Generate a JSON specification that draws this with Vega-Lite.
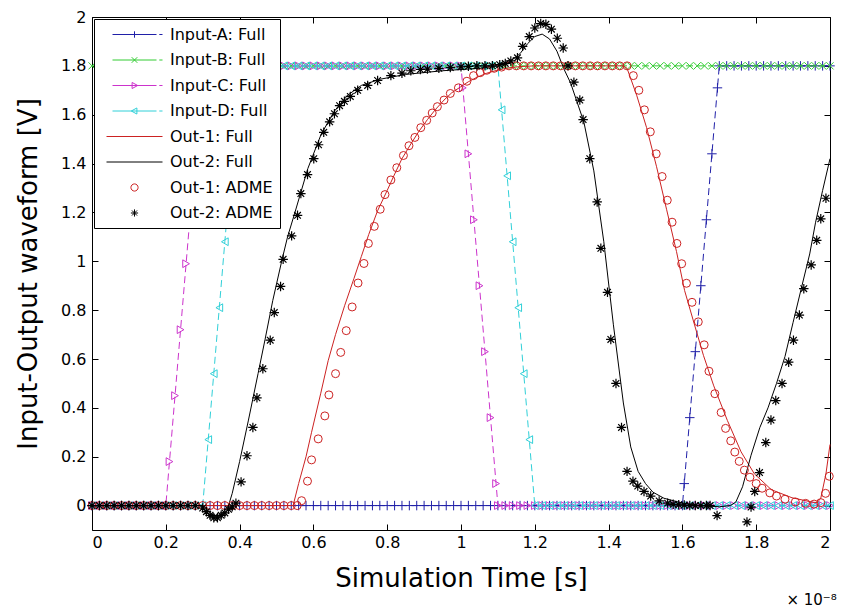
{
"$schema": "https://vega.github.io/schema/vega-lite/v6.json",
"width": 738, "height": 513,
"autosize": {"type": "none"},
"padding": {"left": 92, "top": 17, "right": 16, "bottom": 84},
"background": "white",
"title": {"text": "× 10⁻⁸", "orient": "bottom", "anchor": "end", "fontSize": 15, "fontWeight": "normal", "font": "DejaVu Sans", "color": "#000", "offset": 2},
"config": {
  "view": {"stroke": "#000", "strokeWidth": 1},
  "font": "DejaVu Sans",
  "axis": {"grid": false, "domain": false, "tickColor": "#000", "tickSize": 6, "offset": -6, "labelColor": "#000", "labelFontSize": 16, "titleFontSize": 26, "titleFontWeight": "normal", "titleColor": "#000", "labelFont": "DejaVu Sans", "titleFont": "DejaVu Sans"}
},
"datasets": {
"legend": [{"s":"Input-A: Full"},{"s":"Input-B: Full"},{"s":"Input-C: Full"},{"s":"Input-D: Full"},{"s":"Out-1: Full"},{"s":"Out-2: Full"},{"s":"Out-1: ADME"},{"s":"Out-2: ADME"}],
"A": [{"x":0,"y":0},{"x":0.02,"y":0},{"x":0.04,"y":0},{"x":0.06,"y":0},{"x":0.08,"y":0},{"x":0.1,"y":0},{"x":0.12,"y":0},{"x":0.14,"y":0},{"x":0.16,"y":0},{"x":0.18,"y":0},{"x":0.2,"y":0},{"x":0.22,"y":0},{"x":0.24,"y":0},{"x":0.26,"y":0},{"x":0.28,"y":0},{"x":0.3,"y":0},{"x":0.32,"y":0},{"x":0.34,"y":0},{"x":0.36,"y":0},{"x":0.38,"y":0},{"x":0.4,"y":0},{"x":0.42,"y":0},{"x":0.44,"y":0},{"x":0.46,"y":0},{"x":0.48,"y":0},{"x":0.5,"y":0},{"x":0.52,"y":0},{"x":0.54,"y":0},{"x":0.56,"y":0},{"x":0.58,"y":0},{"x":0.6,"y":0},{"x":0.62,"y":0},{"x":0.64,"y":0},{"x":0.66,"y":0},{"x":0.68,"y":0},{"x":0.7,"y":0},{"x":0.72,"y":0},{"x":0.74,"y":0},{"x":0.76,"y":0},{"x":0.78,"y":0},{"x":0.8,"y":0},{"x":0.82,"y":0},{"x":0.84,"y":0},{"x":0.86,"y":0},{"x":0.88,"y":0},{"x":0.9,"y":0},{"x":0.92,"y":0},{"x":0.94,"y":0},{"x":0.96,"y":0},{"x":0.98,"y":0},{"x":1,"y":0},{"x":1.02,"y":0},{"x":1.04,"y":0},{"x":1.06,"y":0},{"x":1.08,"y":0},{"x":1.1,"y":0},{"x":1.12,"y":0},{"x":1.14,"y":0},{"x":1.16,"y":0},{"x":1.18,"y":0},{"x":1.2,"y":0},{"x":1.22,"y":0},{"x":1.24,"y":0},{"x":1.26,"y":0},{"x":1.28,"y":0},{"x":1.3,"y":0},{"x":1.32,"y":0},{"x":1.34,"y":0},{"x":1.36,"y":0},{"x":1.38,"y":0},{"x":1.4,"y":0},{"x":1.42,"y":0},{"x":1.44,"y":0},{"x":1.46,"y":0},{"x":1.48,"y":0},{"x":1.5,"y":0},{"x":1.52,"y":0},{"x":1.54,"y":0},{"x":1.56,"y":0},{"x":1.58,"y":0},{"x":1.6,"y":0},{"x":1.605,"y":0.09},{"x":1.62,"y":0.36},{"x":1.635,"y":0.63},{"x":1.65,"y":0.9},{"x":1.665,"y":1.17},{"x":1.68,"y":1.44},{"x":1.695,"y":1.71},{"x":1.7,"y":1.8},{"x":1.72,"y":1.8},{"x":1.74,"y":1.8},{"x":1.76,"y":1.8},{"x":1.78,"y":1.8},{"x":1.8,"y":1.8},{"x":1.82,"y":1.8},{"x":1.84,"y":1.8},{"x":1.86,"y":1.8},{"x":1.88,"y":1.8},{"x":1.9,"y":1.8},{"x":1.92,"y":1.8},{"x":1.94,"y":1.8},{"x":1.96,"y":1.8},{"x":1.98,"y":1.8},{"x":2,"y":1.8}],
"B": [{"x":0,"y":1.8},{"x":0.02,"y":1.8},{"x":0.04,"y":1.8},{"x":0.06,"y":1.8},{"x":0.08,"y":1.8},{"x":0.1,"y":1.8},{"x":0.12,"y":1.8},{"x":0.14,"y":1.8},{"x":0.16,"y":1.8},{"x":0.18,"y":1.8},{"x":0.2,"y":1.8},{"x":0.22,"y":1.8},{"x":0.24,"y":1.8},{"x":0.26,"y":1.8},{"x":0.28,"y":1.8},{"x":0.3,"y":1.8},{"x":0.32,"y":1.8},{"x":0.34,"y":1.8},{"x":0.36,"y":1.8},{"x":0.38,"y":1.8},{"x":0.4,"y":1.8},{"x":0.42,"y":1.8},{"x":0.44,"y":1.8},{"x":0.46,"y":1.8},{"x":0.48,"y":1.8},{"x":0.5,"y":1.8},{"x":0.52,"y":1.8},{"x":0.54,"y":1.8},{"x":0.56,"y":1.8},{"x":0.58,"y":1.8},{"x":0.6,"y":1.8},{"x":0.62,"y":1.8},{"x":0.64,"y":1.8},{"x":0.66,"y":1.8},{"x":0.68,"y":1.8},{"x":0.7,"y":1.8},{"x":0.72,"y":1.8},{"x":0.74,"y":1.8},{"x":0.76,"y":1.8},{"x":0.78,"y":1.8},{"x":0.8,"y":1.8},{"x":0.82,"y":1.8},{"x":0.84,"y":1.8},{"x":0.86,"y":1.8},{"x":0.88,"y":1.8},{"x":0.9,"y":1.8},{"x":0.92,"y":1.8},{"x":0.94,"y":1.8},{"x":0.96,"y":1.8},{"x":0.98,"y":1.8},{"x":1,"y":1.8},{"x":1.02,"y":1.8},{"x":1.04,"y":1.8},{"x":1.06,"y":1.8},{"x":1.08,"y":1.8},{"x":1.1,"y":1.8},{"x":1.12,"y":1.8},{"x":1.14,"y":1.8},{"x":1.16,"y":1.8},{"x":1.18,"y":1.8},{"x":1.2,"y":1.8},{"x":1.22,"y":1.8},{"x":1.24,"y":1.8},{"x":1.26,"y":1.8},{"x":1.28,"y":1.8},{"x":1.3,"y":1.8},{"x":1.32,"y":1.8},{"x":1.34,"y":1.8},{"x":1.36,"y":1.8},{"x":1.38,"y":1.8},{"x":1.4,"y":1.8},{"x":1.42,"y":1.8},{"x":1.44,"y":1.8},{"x":1.46,"y":1.8},{"x":1.48,"y":1.8},{"x":1.5,"y":1.8},{"x":1.52,"y":1.8},{"x":1.54,"y":1.8},{"x":1.56,"y":1.8},{"x":1.58,"y":1.8},{"x":1.6,"y":1.8},{"x":1.62,"y":1.8},{"x":1.64,"y":1.8},{"x":1.66,"y":1.8},{"x":1.68,"y":1.8},{"x":1.7,"y":1.8},{"x":1.72,"y":1.8},{"x":1.74,"y":1.8},{"x":1.76,"y":1.8},{"x":1.78,"y":1.8},{"x":1.8,"y":1.8},{"x":1.82,"y":1.8},{"x":1.84,"y":1.8},{"x":1.86,"y":1.8},{"x":1.88,"y":1.8},{"x":1.9,"y":1.8},{"x":1.92,"y":1.8},{"x":1.94,"y":1.8},{"x":1.96,"y":1.8},{"x":1.98,"y":1.8},{"x":2,"y":1.8}],
"C": [{"x":0,"y":0},{"x":0.02,"y":0},{"x":0.04,"y":0},{"x":0.06,"y":0},{"x":0.08,"y":0},{"x":0.1,"y":0},{"x":0.12,"y":0},{"x":0.14,"y":0},{"x":0.16,"y":0},{"x":0.18,"y":0},{"x":0.2,"y":0},{"x":0.21,"y":0.18},{"x":0.225,"y":0.45},{"x":0.24,"y":0.72},{"x":0.255,"y":0.99},{"x":0.27,"y":1.26},{"x":0.285,"y":1.53},{"x":0.3,"y":1.8},{"x":0.32,"y":1.8},{"x":0.34,"y":1.8},{"x":0.36,"y":1.8},{"x":0.38,"y":1.8},{"x":0.4,"y":1.8},{"x":0.42,"y":1.8},{"x":0.44,"y":1.8},{"x":0.46,"y":1.8},{"x":0.48,"y":1.8},{"x":0.5,"y":1.8},{"x":0.52,"y":1.8},{"x":0.54,"y":1.8},{"x":0.56,"y":1.8},{"x":0.58,"y":1.8},{"x":0.6,"y":1.8},{"x":0.62,"y":1.8},{"x":0.64,"y":1.8},{"x":0.66,"y":1.8},{"x":0.68,"y":1.8},{"x":0.7,"y":1.8},{"x":0.72,"y":1.8},{"x":0.74,"y":1.8},{"x":0.76,"y":1.8},{"x":0.78,"y":1.8},{"x":0.8,"y":1.8},{"x":0.82,"y":1.8},{"x":0.84,"y":1.8},{"x":0.86,"y":1.8},{"x":0.88,"y":1.8},{"x":0.9,"y":1.8},{"x":0.92,"y":1.8},{"x":0.94,"y":1.8},{"x":0.96,"y":1.8},{"x":0.98,"y":1.8},{"x":1,"y":1.8},{"x":1.005,"y":1.71},{"x":1.02,"y":1.44},{"x":1.035,"y":1.17},{"x":1.05,"y":0.9},{"x":1.065,"y":0.63},{"x":1.08,"y":0.36},{"x":1.095,"y":0.09},{"x":1.1,"y":0},{"x":1.12,"y":0},{"x":1.14,"y":0},{"x":1.16,"y":0},{"x":1.18,"y":0},{"x":1.2,"y":0},{"x":1.22,"y":0},{"x":1.24,"y":0},{"x":1.26,"y":0},{"x":1.28,"y":0},{"x":1.3,"y":0},{"x":1.32,"y":0},{"x":1.34,"y":0},{"x":1.36,"y":0},{"x":1.38,"y":0},{"x":1.4,"y":0},{"x":1.42,"y":0},{"x":1.44,"y":0},{"x":1.46,"y":0},{"x":1.48,"y":0},{"x":1.5,"y":0},{"x":1.52,"y":0},{"x":1.54,"y":0},{"x":1.56,"y":0},{"x":1.58,"y":0},{"x":1.6,"y":0},{"x":1.62,"y":0},{"x":1.64,"y":0},{"x":1.66,"y":0},{"x":1.68,"y":0},{"x":1.7,"y":0},{"x":1.72,"y":0},{"x":1.74,"y":0},{"x":1.76,"y":0},{"x":1.78,"y":0},{"x":1.8,"y":0},{"x":1.82,"y":0},{"x":1.84,"y":0},{"x":1.86,"y":0},{"x":1.88,"y":0},{"x":1.9,"y":0},{"x":1.92,"y":0},{"x":1.94,"y":0},{"x":1.96,"y":0},{"x":1.98,"y":0},{"x":2,"y":0}],
"D": [{"x":0,"y":0},{"x":0.02,"y":0},{"x":0.04,"y":0},{"x":0.06,"y":0},{"x":0.08,"y":0},{"x":0.1,"y":0},{"x":0.12,"y":0},{"x":0.14,"y":0},{"x":0.16,"y":0},{"x":0.18,"y":0},{"x":0.2,"y":0},{"x":0.22,"y":0},{"x":0.24,"y":0},{"x":0.26,"y":0},{"x":0.28,"y":0},{"x":0.3,"y":0},{"x":0.315,"y":0.27},{"x":0.33,"y":0.54},{"x":0.345,"y":0.81},{"x":0.36,"y":1.08},{"x":0.375,"y":1.35},{"x":0.39,"y":1.62},{"x":0.4,"y":1.8},{"x":0.42,"y":1.8},{"x":0.44,"y":1.8},{"x":0.46,"y":1.8},{"x":0.48,"y":1.8},{"x":0.5,"y":1.8},{"x":0.52,"y":1.8},{"x":0.54,"y":1.8},{"x":0.56,"y":1.8},{"x":0.58,"y":1.8},{"x":0.6,"y":1.8},{"x":0.62,"y":1.8},{"x":0.64,"y":1.8},{"x":0.66,"y":1.8},{"x":0.68,"y":1.8},{"x":0.7,"y":1.8},{"x":0.72,"y":1.8},{"x":0.74,"y":1.8},{"x":0.76,"y":1.8},{"x":0.78,"y":1.8},{"x":0.8,"y":1.8},{"x":0.82,"y":1.8},{"x":0.84,"y":1.8},{"x":0.86,"y":1.8},{"x":0.88,"y":1.8},{"x":0.9,"y":1.8},{"x":0.92,"y":1.8},{"x":0.94,"y":1.8},{"x":0.96,"y":1.8},{"x":0.98,"y":1.8},{"x":1,"y":1.8},{"x":1.02,"y":1.8},{"x":1.04,"y":1.8},{"x":1.06,"y":1.8},{"x":1.08,"y":1.8},{"x":1.1,"y":1.8},{"x":1.11,"y":1.62},{"x":1.125,"y":1.35},{"x":1.14,"y":1.08},{"x":1.155,"y":0.81},{"x":1.17,"y":0.54},{"x":1.185,"y":0.27},{"x":1.2,"y":0},{"x":1.22,"y":0},{"x":1.24,"y":0},{"x":1.26,"y":0},{"x":1.28,"y":0},{"x":1.3,"y":0},{"x":1.32,"y":0},{"x":1.34,"y":0},{"x":1.36,"y":0},{"x":1.38,"y":0},{"x":1.4,"y":0},{"x":1.42,"y":0},{"x":1.44,"y":0},{"x":1.46,"y":0},{"x":1.48,"y":0},{"x":1.5,"y":0},{"x":1.52,"y":0},{"x":1.54,"y":0},{"x":1.56,"y":0},{"x":1.58,"y":0},{"x":1.6,"y":0},{"x":1.62,"y":0},{"x":1.64,"y":0},{"x":1.66,"y":0},{"x":1.68,"y":0},{"x":1.7,"y":0},{"x":1.72,"y":0},{"x":1.74,"y":0},{"x":1.76,"y":0},{"x":1.78,"y":0},{"x":1.8,"y":0},{"x":1.82,"y":0},{"x":1.84,"y":0},{"x":1.86,"y":0},{"x":1.88,"y":0},{"x":1.9,"y":0},{"x":1.92,"y":0},{"x":1.94,"y":0},{"x":1.96,"y":0},{"x":1.98,"y":0},{"x":2,"y":0}],
"O1": [{"x":0,"y":0},{"x":0.545,"y":0},{"x":0.56,"y":0.09},{"x":0.58,"y":0.2},{"x":0.595,"y":0.3},{"x":0.62,"y":0.46},{"x":0.64,"y":0.593},{"x":0.66,"y":0.7},{"x":0.685,"y":0.82},{"x":0.71,"y":0.93},{"x":0.73,"y":1.02},{"x":0.75,"y":1.11},{"x":0.774,"y":1.207},{"x":0.8,"y":1.29},{"x":0.819,"y":1.353},{"x":0.84,"y":1.42},{"x":0.864,"y":1.48},{"x":0.885,"y":1.53},{"x":0.909,"y":1.58},{"x":0.93,"y":1.62},{"x":0.954,"y":1.66},{"x":0.975,"y":1.69},{"x":0.998,"y":1.713},{"x":1.02,"y":1.735},{"x":1.043,"y":1.753},{"x":1.07,"y":1.77},{"x":1.1,"y":1.783},{"x":1.13,"y":1.792},{"x":1.16,"y":1.797},{"x":1.2,"y":1.8},{"x":1.44,"y":1.8},{"x":1.45,"y":1.79},{"x":1.476,"y":1.68},{"x":1.503,"y":1.547},{"x":1.53,"y":1.387},{"x":1.557,"y":1.213},{"x":1.584,"y":1.04},{"x":1.606,"y":0.88},{"x":1.629,"y":0.76},{"x":1.657,"y":0.615},{"x":1.685,"y":0.49},{"x":1.722,"y":0.348},{"x":1.759,"y":0.22},{"x":1.795,"y":0.13},{"x":1.841,"y":0.065},{"x":1.897,"y":0.032},{"x":1.952,"y":0.014},{"x":1.965,"y":0.012},{"x":1.975,"y":0.03},{"x":1.989,"y":0.13},{"x":2,"y":0.25}],
"O2": [{"x":0,"y":0},{"x":0.3,"y":0},{"x":0.31,"y":-0.012},{"x":0.32,"y":-0.03},{"x":0.33,"y":-0.04},{"x":0.34,"y":-0.042},{"x":0.35,"y":-0.035},{"x":0.36,"y":-0.02},{"x":0.37,"y":0},{"x":0.38,"y":0.05},{"x":0.4,"y":0.18},{"x":0.424,"y":0.35},{"x":0.45,"y":0.54},{"x":0.469,"y":0.68},{"x":0.49,"y":0.84},{"x":0.514,"y":1.0},{"x":0.53,"y":1.1},{"x":0.55,"y":1.2},{"x":0.585,"y":1.38},{"x":0.621,"y":1.52},{"x":0.657,"y":1.615},{"x":0.693,"y":1.68},{"x":0.73,"y":1.72},{"x":0.78,"y":1.745},{"x":0.85,"y":1.765},{"x":0.95,"y":1.78},{"x":1.05,"y":1.79},{"x":1.1,"y":1.8},{"x":1.13,"y":1.815},{"x":1.16,"y":1.85},{"x":1.18,"y":1.89},{"x":1.2,"y":1.92},{"x":1.22,"y":1.93},{"x":1.24,"y":1.91},{"x":1.26,"y":1.86},{"x":1.279,"y":1.787},{"x":1.297,"y":1.73},{"x":1.333,"y":1.57},{"x":1.36,"y":1.37},{"x":1.387,"y":1.08},{"x":1.413,"y":0.74},{"x":1.44,"y":0.42},{"x":1.46,"y":0.24},{"x":1.48,"y":0.14},{"x":1.5,"y":0.09},{"x":1.52,"y":0.055},{"x":1.55,"y":0.03},{"x":1.6,"y":0.01},{"x":1.65,"y":0},{"x":1.7,"y":-0.005},{"x":1.73,"y":0},{"x":1.745,"y":0.015},{"x":1.763,"y":0.077},{"x":1.786,"y":0.206},{"x":1.81,"y":0.32},{"x":1.832,"y":0.4},{"x":1.855,"y":0.5},{"x":1.878,"y":0.61},{"x":1.9,"y":0.75},{"x":1.924,"y":0.9},{"x":1.945,"y":1.03},{"x":1.961,"y":1.16},{"x":1.98,"y":1.29},{"x":2,"y":1.42}],
"O1A": [{"x":0,"y":0},{"x":0.02,"y":0},{"x":0.04,"y":0},{"x":0.06,"y":0},{"x":0.08,"y":0},{"x":0.1,"y":0},{"x":0.12,"y":0},{"x":0.14,"y":0},{"x":0.16,"y":0},{"x":0.18,"y":0},{"x":0.2,"y":0},{"x":0.22,"y":0},{"x":0.24,"y":0},{"x":0.26,"y":0},{"x":0.28,"y":0},{"x":0.3,"y":0},{"x":0.32,"y":0},{"x":0.34,"y":0},{"x":0.36,"y":0},{"x":0.38,"y":0},{"x":0.4,"y":0},{"x":0.42,"y":0},{"x":0.44,"y":0},{"x":0.46,"y":0},{"x":0.48,"y":0},{"x":0.5,"y":0},{"x":0.52,"y":0},{"x":0.54,"y":0},{"x":0.556,"y":0},{"x":0.568,"y":0.02},{"x":0.584,"y":0.1},{"x":0.595,"y":0.187},{"x":0.613,"y":0.273},{"x":0.631,"y":0.367},{"x":0.642,"y":0.453},{"x":0.66,"y":0.54},{"x":0.674,"y":0.627},{"x":0.689,"y":0.716},{"x":0.705,"y":0.813},{"x":0.721,"y":0.911},{"x":0.737,"y":0.991},{"x":0.749,"y":1.073},{"x":0.765,"y":1.143},{"x":0.781,"y":1.213},{"x":0.794,"y":1.273},{"x":0.81,"y":1.333},{"x":0.826,"y":1.383},{"x":0.844,"y":1.433},{"x":0.859,"y":1.473},{"x":0.875,"y":1.507},{"x":0.891,"y":1.547},{"x":0.907,"y":1.577},{"x":0.922,"y":1.607},{"x":0.936,"y":1.633},{"x":0.954,"y":1.66},{"x":0.971,"y":1.687},{"x":0.993,"y":1.71},{"x":1.016,"y":1.737},{"x":1.034,"y":1.76},{"x":1.052,"y":1.772},{"x":1.07,"y":1.782},{"x":1.09,"y":1.79},{"x":1.11,"y":1.795},{"x":1.13,"y":1.8},{"x":1.15,"y":1.8},{"x":1.17,"y":1.8},{"x":1.19,"y":1.8},{"x":1.21,"y":1.8},{"x":1.23,"y":1.8},{"x":1.25,"y":1.8},{"x":1.27,"y":1.8},{"x":1.29,"y":1.8},{"x":1.31,"y":1.8},{"x":1.33,"y":1.8},{"x":1.35,"y":1.8},{"x":1.37,"y":1.8},{"x":1.39,"y":1.8},{"x":1.41,"y":1.8},{"x":1.43,"y":1.8},{"x":1.45,"y":1.8},{"x":1.467,"y":1.76},{"x":1.482,"y":1.7},{"x":1.497,"y":1.62},{"x":1.513,"y":1.53},{"x":1.529,"y":1.44},{"x":1.545,"y":1.347},{"x":1.559,"y":1.25},{"x":1.572,"y":1.16},{"x":1.585,"y":1.073},{"x":1.598,"y":0.99},{"x":1.611,"y":0.91},{"x":1.626,"y":0.832},{"x":1.643,"y":0.752},{"x":1.659,"y":0.658},{"x":1.672,"y":0.55},{"x":1.688,"y":0.458},{"x":1.705,"y":0.381},{"x":1.717,"y":0.316},{"x":1.731,"y":0.265},{"x":1.742,"y":0.219},{"x":1.754,"y":0.181},{"x":1.768,"y":0.145},{"x":1.783,"y":0.116},{"x":1.8,"y":0.09},{"x":1.816,"y":0.071},{"x":1.837,"y":0.052},{"x":1.855,"y":0.039},{"x":1.878,"y":0.026},{"x":1.906,"y":0.015},{"x":1.934,"y":0.009},{"x":1.957,"y":0.006},{"x":1.975,"y":0.012},{"x":1.988,"y":0.05},{"x":1.998,"y":0.12}],
"O2A": [{"x":0,"y":0},{"x":0.02,"y":0},{"x":0.04,"y":0},{"x":0.06,"y":0},{"x":0.08,"y":0},{"x":0.1,"y":0},{"x":0.12,"y":0},{"x":0.14,"y":0},{"x":0.16,"y":0},{"x":0.18,"y":0},{"x":0.2,"y":0},{"x":0.22,"y":0},{"x":0.24,"y":0},{"x":0.26,"y":0},{"x":0.28,"y":0},{"x":0.3,"y":-0.01},{"x":0.31,"y":-0.025},{"x":0.32,"y":-0.04},{"x":0.33,"y":-0.05},{"x":0.34,"y":-0.05},{"x":0.35,"y":-0.04},{"x":0.36,"y":-0.03},{"x":0.37,"y":-0.015},{"x":0.38,"y":-0.005},{"x":0.39,"y":0.01},{"x":0.404,"y":0.097},{"x":0.42,"y":0.204},{"x":0.436,"y":0.32},{"x":0.447,"y":0.441},{"x":0.463,"y":0.56},{"x":0.483,"y":0.677},{"x":0.494,"y":0.79},{"x":0.511,"y":0.897},{"x":0.518,"y":1.008},{"x":0.541,"y":1.104},{"x":0.557,"y":1.188},{"x":0.566,"y":1.277},{"x":0.584,"y":1.355},{"x":0.601,"y":1.42},{"x":0.614,"y":1.477},{"x":0.628,"y":1.528},{"x":0.644,"y":1.571},{"x":0.657,"y":1.604},{"x":0.671,"y":1.637},{"x":0.684,"y":1.655},{"x":0.7,"y":1.675},{"x":0.72,"y":1.7},{"x":0.747,"y":1.72},{"x":0.774,"y":1.74},{"x":0.81,"y":1.76},{"x":0.84,"y":1.77},{"x":0.864,"y":1.78},{"x":0.89,"y":1.785},{"x":0.909,"y":1.787},{"x":0.94,"y":1.79},{"x":0.971,"y":1.793},{"x":1.0,"y":1.796},{"x":1.02,"y":1.798},{"x":1.043,"y":1.8},{"x":1.065,"y":1.8},{"x":1.085,"y":1.8},{"x":1.105,"y":1.805},{"x":1.12,"y":1.81},{"x":1.135,"y":1.82},{"x":1.153,"y":1.833},{"x":1.167,"y":1.88},{"x":1.185,"y":1.92},{"x":1.2,"y":1.955},{"x":1.216,"y":1.973},{"x":1.23,"y":1.97},{"x":1.245,"y":1.95},{"x":1.261,"y":1.913},{"x":1.277,"y":1.873},{"x":1.29,"y":1.8},{"x":1.306,"y":1.733},{"x":1.322,"y":1.66},{"x":1.331,"y":1.58},{"x":1.349,"y":1.42},{"x":1.369,"y":1.243},{"x":1.379,"y":1.053},{"x":1.397,"y":0.873},{"x":1.406,"y":0.68},{"x":1.42,"y":0.5},{"x":1.435,"y":0.32},{"x":1.45,"y":0.14},{"x":1.466,"y":0.1},{"x":1.479,"y":0.08},{"x":1.496,"y":0.058},{"x":1.514,"y":0.039},{"x":1.537,"y":0.019},{"x":1.56,"y":0.01},{"x":1.575,"y":0.005},{"x":1.59,"y":0.003},{"x":1.605,"y":0.002},{"x":1.62,"y":0},{"x":1.635,"y":0},{"x":1.65,"y":0},{"x":1.665,"y":0},{"x":1.675,"y":0},{"x":1.694,"y":-0.041},{"x":1.775,"y":-0.067},{"x":1.786,"y":-0.006},{"x":1.796,"y":0.058},{"x":1.809,"y":0.135},{"x":1.826,"y":0.258},{"x":1.84,"y":0.35},{"x":1.853,"y":0.43},{"x":1.87,"y":0.5},{"x":1.888,"y":0.587},{"x":1.901,"y":0.677},{"x":1.917,"y":0.78},{"x":1.929,"y":0.888},{"x":1.949,"y":0.985},{"x":1.964,"y":1.086},{"x":1.975,"y":1.174},{"x":1.989,"y":1.258}]
},
"resolve": {"axis": {"x": "independent", "y": "independent"}},
"layer": [
 {"data": {"name": "A"}, "mark": {"type": "line", "color": "#2020a8", "strokeWidth": 1, "strokeDash": [7, 4]},
  "encoding": {"x": {"field": "x", "type": "quantitative", "scale": {"domain": [0, 2], "nice": false},
     "axis": {"orient": "bottom", "values": [0,0.2,0.4,0.6,0.8,1,1.2,1.4,1.6,1.8,2], "format": "~g", "title": "Simulation Time [s]", "labelPadding": 4, "titlePadding": 15}},
   "y": {"field": "y", "type": "quantitative", "scale": {"domain": [-0.1, 2], "nice": false},
     "axis": {"orient": "left", "values": [0,0.2,0.4,0.6,0.8,1,1.2,1.4,1.6,1.8,2], "format": "~g", "title": "Input-Output waveform [V]", "labelPadding": 6, "titlePadding": 19}}}},
 {"data": {"name": "A"}, "mark": {"type": "point", "shape": "M-1,0H1M0,-1V1", "filled": false, "color": "#2020a8", "size": 90, "strokeWidth": 1, "opacity": 1},
  "encoding": {"x": {"field": "x", "type": "quantitative", "axis": null}, "y": {"field": "y", "type": "quantitative", "axis": null}}},
 {"data": {"name": "B"}, "mark": {"type": "line", "color": "#33cc33", "strokeWidth": 1, "strokeDash": [7, 4]},
  "encoding": {"x": {"field": "x", "type": "quantitative", "axis": null}, "y": {"field": "y", "type": "quantitative", "axis": null}}},
 {"data": {"name": "B"}, "mark": {"type": "point", "shape": "M-1,-1L1,1M-1,1L1,-1", "filled": false, "color": "#33cc33", "size": 50, "strokeWidth": 1, "opacity": 1},
  "encoding": {"x": {"field": "x", "type": "quantitative", "axis": null}, "y": {"field": "y", "type": "quantitative", "axis": null}}},
 {"data": {"name": "C"}, "mark": {"type": "line", "color": "#cc33cc", "strokeWidth": 1, "strokeDash": [7, 4]},
  "encoding": {"x": {"field": "x", "type": "quantitative", "axis": null}, "y": {"field": "y", "type": "quantitative", "axis": null}}},
 {"data": {"name": "C"}, "mark": {"type": "point", "shape": "triangle-right", "filled": false, "color": "#cc33cc", "size": 60, "strokeWidth": 1, "opacity": 1},
  "encoding": {"x": {"field": "x", "type": "quantitative", "axis": null}, "y": {"field": "y", "type": "quantitative", "axis": null}}},
 {"data": {"name": "D"}, "mark": {"type": "line", "color": "#30d0d8", "strokeWidth": 1, "strokeDash": [7, 4]},
  "encoding": {"x": {"field": "x", "type": "quantitative", "axis": null}, "y": {"field": "y", "type": "quantitative", "axis": null}}},
 {"data": {"name": "D"}, "mark": {"type": "point", "shape": "triangle-left", "filled": false, "color": "#30d0d8", "size": 60, "strokeWidth": 1, "opacity": 1},
  "encoding": {"x": {"field": "x", "type": "quantitative", "axis": null}, "y": {"field": "y", "type": "quantitative", "axis": null}}},
 {"data": {"name": "O1"}, "mark": {"type": "line", "color": "#cc2222", "strokeWidth": 1},
  "encoding": {"x": {"field": "x", "type": "quantitative", "axis": null}, "y": {"field": "y", "type": "quantitative", "axis": null}}},
 {"data": {"name": "O2"}, "mark": {"type": "line", "color": "#000000", "strokeWidth": 1},
  "encoding": {"x": {"field": "x", "type": "quantitative", "axis": null}, "y": {"field": "y", "type": "quantitative", "axis": null}}},
 {"data": {"name": "O1A"}, "mark": {"type": "point", "shape": "circle", "filled": false, "color": "#cc2222", "size": 64, "strokeWidth": 1, "opacity": 1},
  "encoding": {"x": {"field": "x", "type": "quantitative", "axis": null}, "y": {"field": "y", "type": "quantitative", "axis": null}}},
 {"data": {"name": "O2A"}, "mark": {"type": "point", "shape": "M-1,0H1M0,-1V1M-0.7,-0.7L0.7,0.7M-0.7,0.7L0.7,-0.7", "filled": false, "color": "#000000", "size": 90, "strokeWidth": 1.2, "opacity": 1},
  "encoding": {"x": {"field": "x", "type": "quantitative", "axis": null}, "y": {"field": "y", "type": "quantitative", "axis": null}}},
 {"data": {"name": "legend"}, "transform": [{"filter": "false"}],
  "mark": {"type": "point", "filled": false, "strokeWidth": 1, "opacity": 1},
  "encoding": {
   "x": {"field": "x", "type": "quantitative", "axis": {"orient": "top", "values": [0,0.2,0.4,0.6,0.8,1,1.2,1.4,1.6,1.8,2], "labels": false, "title": null}},
   "y": {"field": "y", "type": "quantitative", "axis": {"orient": "right", "values": [0,0.2,0.4,0.6,0.8,1,1.2,1.4,1.6,1.8,2], "labels": false, "title": null}},
   "color": {"field": "s", "type": "nominal",
     "scale": {"domain": ["Input-A: Full","Input-B: Full","Input-C: Full","Input-D: Full","Out-1: Full","Out-2: Full","Out-1: ADME","Out-2: ADME"],
               "range": ["#2020a8","#33cc33","#cc33cc","#30d0d8","#cc2222","#000000","#cc2222","#000000"]},
     "legend": {"orient": "top-left", "offset": 2, "title": null, "padding": 7, "strokeColor": "#000", "fillColor": "#fff", "cornerRadius": 0, "labelFontSize": 16, "labelFont": "DejaVu Sans", "labelColor": "#000", "symbolSize": 256, "symbolStrokeWidth": 1, "symbolOffset": 25, "labelOffset": 27, "rowPadding": 8.5, "symbolOpacity": 1}},
   "shape": {"field": "s", "type": "nominal",
     "scale": {"domain": ["Input-A: Full","Input-B: Full","Input-C: Full","Input-D: Full","Out-1: Full","Out-2: Full","Out-1: ADME","Out-2: ADME"],
               "range": ["M-2.75,0H2.75M3.1,0H3.5M0,-0.4V0.4M-0.4,0H0.4",
                         "M-2.75,0H2.75M3.1,0H3.5M-0.35,-0.35L0.35,0.35M-0.35,0.35L0.35,-0.35",
                         "M-2.75,0H2.75M3.1,0H3.5M-0.3,-0.38L0.4,0L-0.3,0.38Z",
                         "M-2.75,0H2.75M3.1,0H3.5M0.3,-0.38L-0.4,0L0.3,0.38Z",
                         "M-3.5,0H3.5",
                         "M-3.5,0H3.5",
                         "M0.45,0A0.45,0.45,0,1,1,-0.45,0A0.45,0.45,0,1,1,0.45,0Z",
                         "M-0.45,0H0.45M0,-0.45V0.45M-0.32,-0.32L0.32,0.32M-0.32,0.32L0.32,-0.32"]},
     "legend": {"orient": "top-left", "title": null}}
  }}
]
}
